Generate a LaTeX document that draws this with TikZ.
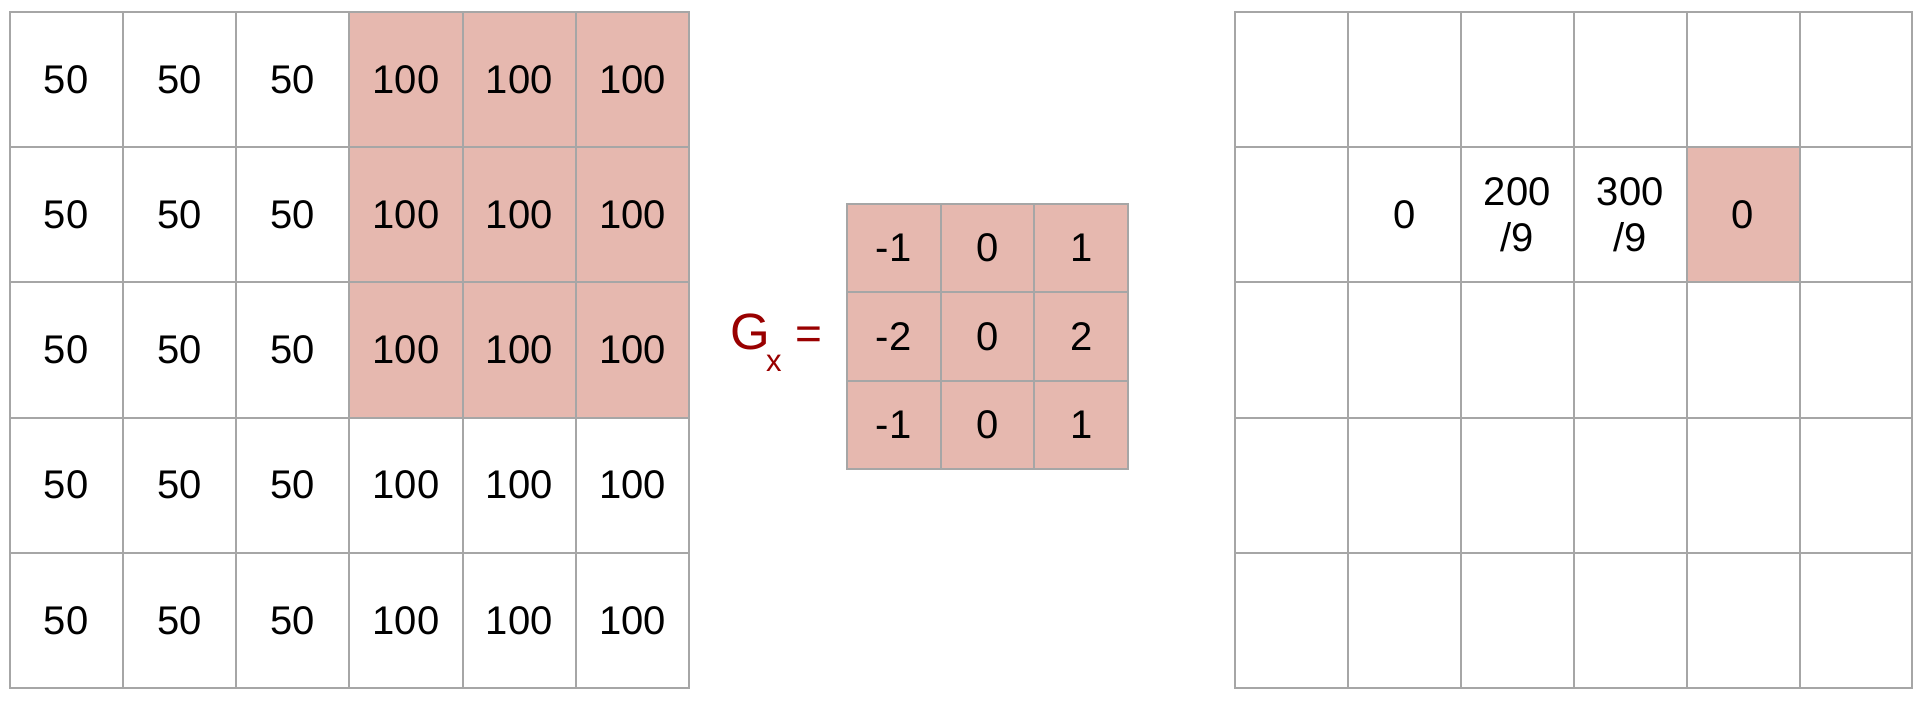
\documentclass[tikz,border=0pt]{standalone}
\usepackage{fontspec}
\setmainfont{Liberation Sans}
\definecolor{cellpink}{HTML}{E6B8AF}
\definecolor{gridgray}{HTML}{A6A6A6}
\definecolor{gxred}{HTML}{990000}
\begin{document}
\begin{tikzpicture}[x=1pt,y=-1pt,
  cell/.style={draw=gridgray, line width=2pt, inner sep=0pt, align=center,
    font=\fontsize{40}{46}\selectfont},
  lcell/.style={cell, minimum width=113.3pt, minimum height=135.2pt},
  rcell/.style={cell, minimum width=112.9pt, minimum height=135.2pt},
  kcell/.style={cell, fill=cellpink, minimum width=93.8pt, minimum height=88.4pt},
  gxtext/.style={anchor=base west, inner sep=0pt, text=gxred}]
\useasboundingbox (0,0) rectangle (1930,704);
% left grid
\foreach \r in {0,...,4}{
  \foreach \c in {0,1,2}{
    \node[lcell, fill=white] (L\r\c) at ({9.5+113.3*(\c+0.5)},{12+135.2*(\r+0.5)}) {50};
  }
}
\foreach \r in {0,1,2}{
  \foreach \c in {3,4,5}{
    \node[lcell, fill=cellpink] (L\r\c) at ({9.5+113.3*(\c+0.5)},{12+135.2*(\r+0.5)}) {100};
  }
}
\foreach \r in {3,4}{
  \foreach \c in {3,4,5}{
    \node[lcell, fill=white] (L\r\c) at ({9.5+113.3*(\c+0.5)},{12+135.2*(\r+0.5)}) {100};
  }
}
% kernel
\foreach \r/\c/\v in {0/0/-1,0/1/0,0/2/1,1/0/-2,1/1/0,1/2/2,2/0/-1,2/1/0,2/2/1}{
  \node[kcell] (K\r\c) at ({846.7+93.8*(\c+0.5)},{204+88.4*(\r+0.5)}) {\v};
}
% G_x =
\node[gxtext, font=\fontsize{51}{51}\selectfont] (G) at (730,349) {G};
\node[gxtext, font=\fontsize{31}{31}\selectfont] (Gsub) at (766,371) {x};
\node[gxtext, font=\fontsize{46}{46}\selectfont] (Geq) at (795,349) {=};
% right grid
\foreach \r in {0,2,3,4}{
  \foreach \c in {0,...,5}{
    \node[rcell, fill=white] (R\r\c) at ({1235+112.9*(\c+0.5)},{12+135.2*(\r+0.5)}) {};
  }
}
\foreach \c in {0,5}{
  \node[rcell, fill=white] (R1\c) at ({1235+112.9*(\c+0.5)},{12+135.2*1.5}) {};
}
\node[rcell, fill=white] (R11) at ({1235+112.9*1.5},{12+135.2*1.5}) {0};
\node[rcell, fill=white] (R12) at ({1235+112.9*2.5},{12+135.2*1.5}) {200\\/9};
\node[rcell, fill=white] (R13) at ({1235+112.9*3.5},{12+135.2*1.5}) {300\\/9};
\node[rcell, fill=cellpink] (R14) at ({1235+112.9*4.5},{12+135.2*1.5}) {0};
\end{tikzpicture}
\end{document}
